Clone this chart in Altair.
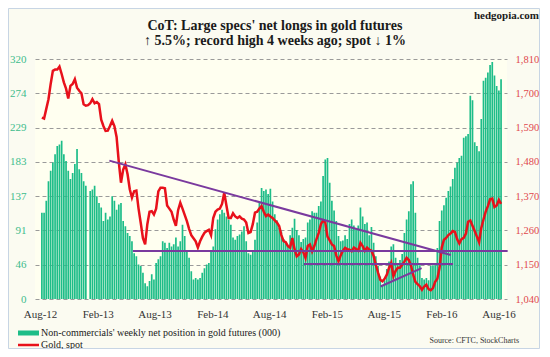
import altair as alt
import pandas as pd

# ---------------- data ----------------
dates = pd.date_range("2012-08-07", periods=210, freq="7D")

net_longs = [
    115, 115, 131, 157, 171, 182, 193, 204, 206, 211,
    193, 184, 171, 160, 168, 180, 200, 173, 168, 157,
    151, None, 144, 146, 151, 137, 128, 122, 104, 115,
    106, 110, 137, 131, 119, 126, 128, 104, 97, 88,
    84, 77, 61, 57, 46, 44, 35, 21, 17, 24,
    33, 26, 48, 53, 57, 77, 75, 68, 75, 70,
    73, 82, 70, 77, 99, 84, 64, 55, 37, 26,
    28, 26, 28, 35, 41, 46, 48, 64, 70, 93,
    106, 113, 119, 115, 110, 106, 99, 82, 79, 84,
    86, 90, 97, 77, 61, 59, 64, 79, 102, 128,
    148, 144, 146, 140, 147, 130, 113, 105, 95, 90,
    80, 75, 70, 85, 95, 107, 92, 85, 76, 80,
    82, 102, 106, 117, 115, 115, 124, 130, 164, 186,
    188, 155, 131, 118, 104, 84, 77, 78, 85, 80,
    100, 106, 98, 93, 98, 122, 110, 100, 102, 85,
    96, 75, 57, 44, 30, 19, 25, 40, 50, 70,
    73, 55, 48, 52, 60, 88, 106, 117, 153, 157,
    115, 55, 45, 28, 26, 28, 25, 44, 45, 45,
    68, 104, 118, 125, 135, 144, 150, 160, 175, 182,
    188, 191, 215, 217, 220, 271, 265, 209, 204, 197,
    240, 291, 295, 302, 312, 316, 298, 284, 278, 293,
]

gold = [
    1622, 1619, 1650, 1681, 1730, 1772, 1776, 1776, 1786, 1762,
    1735, 1715, 1683, 1724, 1730, 1745, 1718, 1708, 1700, 1665,
    1660, 1662, 1668, 1681, 1668, 1672, 1665, 1615, 1595, 1579,
    1580, 1595, 1612, 1595, 1560, 1480, 1413, 1455, 1472, 1440,
    1392, 1365, 1386, 1388, 1330, 1284, 1235, 1215, 1280, 1320,
    1322, 1311, 1330, 1385, 1397, 1397, 1395, 1340, 1330, 1320,
    1295, 1275, 1325, 1349, 1330, 1310, 1290, 1265, 1245, 1235,
    1225, 1205, 1225, 1240, 1252, 1258, 1262, 1245, 1300, 1320,
    1327, 1330, 1345, 1381, 1340, 1300, 1300, 1315, 1305, 1300,
    1305, 1298, 1295, 1285, 1252, 1255, 1280, 1317, 1320, 1330,
    1338, 1320, 1306, 1311, 1305, 1300, 1292, 1285, 1274, 1245,
    1226, 1222, 1210, 1205, 1236, 1200, 1177, 1183, 1200, 1190,
    1172, 1210, 1215, 1193, 1210, 1232, 1252, 1280, 1292, 1285,
    1240, 1228, 1215, 1210, 1180, 1161, 1180, 1195, 1204, 1200,
    1198, 1193, 1205, 1200, 1195, 1220, 1210, 1195, 1205, 1198,
    1195, 1178, 1150, 1125, 1102, 1097, 1105, 1118, 1140, 1156,
    1113, 1130, 1140, 1140, 1150, 1160, 1172, 1165, 1148, 1118,
    1095, 1088, 1081, 1070, 1080, 1086, 1072, 1068, 1075, 1095,
    1105, 1140, 1205, 1230, 1236, 1245, 1250, 1258, 1255, 1232,
    1218, 1232, 1236, 1250, 1288, 1292, 1275, 1258, 1240, 1222,
    1268, 1295, 1320, 1338, 1360, 1362, 1335, 1340, 1358, 1345,
]

# trend lines drawn on the gold (right) scale
trend_id = ["down", "down", "sup1", "sup1", "sup2", "sup2", "up", "up"]
trend_date = ["2013-03-10", "2016-03-02", "2013-05-24", "2016-08-30",
              "2014-11-20", "2016-03-09", "2015-07-22", "2015-11-30"]
trend_price = [1484, 1181, 1194, 1194, 1152, 1152, 1080, 1139]

left_ticks = [320 * k / 7 for k in range(8)]
right_ticks = [1040, 1150, 1260, 1370, 1480, 1590, 1700, 1810]
x_ticks = [alt.DateTime(year=y, month=m, date=1)
           for y, m in [(2012, 8), (2013, 2), (2013, 8), (2014, 2), (2014, 8),
                        (2015, 2), (2015, 8), (2016, 2), (2016, 8)]]

title1 = "CoT: Large specs' net longs in gold futures"
title2 = "\u2191 5.5%; record high 4 weeks ago; spot \u2193 1%"
legend1 = "Non-commercials' weekly net position in gold futures (000)"
legend2 = "Gold, spot"
source = "Source: CFTC, StockCharts"
brand = "hedgopia.com"

df = pd.DataFrame({"date": dates, "net": net_longs, "gold": gold})
tl = pd.DataFrame({"id": trend_id, "date": pd.to_datetime(trend_date), "price": trend_price})

SERIF = "Liberation Serif"
GREEN = "#1dbd88"
RED = "#e8111b"
PURPLE = "#7a3a9e"

xscale = alt.Scale(domain=[alt.DateTime(year=2012, month=8, date=1),
                           alt.DateTime(year=2016, month=8, date=12)])

xaxis = alt.Axis(values=x_ticks, format="%b-%y", title=None, ticks=False, domain=False,
                 grid=False, labelFont=SERIF, labelFontSize=11, labelColor="#333333",
                 labelPadding=9)

bars = alt.Chart(df).mark_bar(size=1.7, color=GREEN).encode(
    x=alt.X("date:T", scale=xscale, axis=xaxis),
    y=alt.Y("net:Q", scale=alt.Scale(domain=[0, 320]),
            axis=alt.Axis(values=left_ticks, labelExpr="format(datum.value, '.0f')",
                          title=None, orient="left",
                          ticks=False, domain=False, grid=True, gridDash=[4, 3],
                          gridColor="#9a9a9a", gridWidth=1, labelFont=SERIF,
                          labelFontSize=11, labelColor="#3dbb8c", labelPadding=9)),
)

gold_scale = alt.Scale(domain=[1040, 1810])
right_axis = alt.Axis(values=right_ticks, labelExpr="format(datum.value, ',.0f')",
                      title=None, orient="right",
                      ticks=False, domain=False, grid=False, labelFont=SERIF,
                      labelFontSize=10.5, labelColor="#e0474c", labelPadding=8)

gold_line = alt.Chart(df).mark_line(color=RED, strokeWidth=2.5).encode(
    x=alt.X("date:T", scale=xscale),
    y=alt.Y("gold:Q", scale=gold_scale, axis=right_axis),
)

trends = alt.Chart(tl).mark_line(color=PURPLE, strokeWidth=2).encode(
    x=alt.X("date:T", scale=xscale),
    y=alt.Y("price:Q", scale=gold_scale, axis=right_axis),
    detail="id:N",
)

right_layer = alt.layer(gold_line, trends)

one = pd.DataFrame({"t": [""]})


def label(text, x, y, size, align="center", weight="normal", color="#1a1a1a"):
    return alt.Chart(pd.DataFrame({"t": [text]})).mark_text(
        font=SERIF, fontSize=size, fontWeight=weight, align=align,
        baseline="middle", color=color
    ).encode(x=alt.value(x), y=alt.value(y), text="t:N")


frame = alt.Chart(one).mark_rect(fillOpacity=0, stroke="#c7d5e4", strokeWidth=1).encode(
    x=alt.value(-26.5), x2=alt.value(504.5), y=alt.value(-50.5), y2=alt.value(289.5)
)

sw_green = alt.Chart(one).mark_rect(color=GREEN).encode(
    x=alt.value(-17), x2=alt.value(4), y=alt.value(271.5), y2=alt.value(276.5)
)
sw_red = alt.Chart(one).mark_rule(color=RED, strokeWidth=2.5).encode(
    x=alt.value(-17), x2=alt.value(4), y=alt.value(286)
)

chart = alt.layer(
    bars,
    right_layer,
).resolve_scale(y="independent")

chart = alt.layer(
    chart,
    frame,
    sw_green,
    sw_red,
    label(title1, 240, -33, 14, weight="bold"),
    label(title2, 240, -18, 14, weight="bold"),
    label(brand, 504, -43, 11, align="right", weight="bold"),
    label(legend1, 6, 274, 10, align="left"),
    label(legend2, 6, 286, 10, align="left"),
    label(source, 484, 282, 8, align="right", color="#333333"),
).properties(
    width=472,
    height=240,
    padding={"left": 27, "top": 51, "right": 33, "bottom": 50},
    autosize=alt.AutoSizeParams(type="none"),
    background="#fbfbf1",
).configure_view(strokeWidth=0, fill="#fffff0")

chart.save("out.html", embed_options={"renderer": "svg", "actions": False})
